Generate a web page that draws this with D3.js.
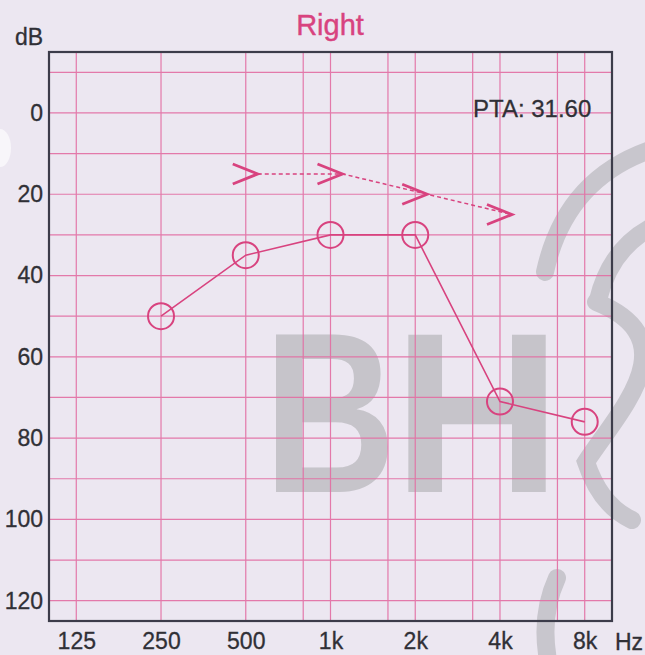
<!DOCTYPE html>
<html>
<head>
<meta charset="utf-8">
<script src="https://cdn.jsdelivr.net/npm/d3@7"></script>
<style>
  html, body { margin: 0; padding: 0; background: #ece7f1; }
  svg { display: block; }
  text { font-family: "Liberation Sans", Arial, sans-serif; }
</style>
</head>
<body>
<svg id="chart" width="645" height="655"></svg>
<script>
// ---- data ----
const freqTicks = [125, 250, 500, 1000, 2000, 4000, 8000];
const freqLabels = ["125", "250", "500", "1k", "2k", "4k", "8k"];
const midFreqs = [800, 1600, 3200, 6400];
const dbTicks = [0, 20, 40, 60, 80, 100, 120];
const dbGrid = [-10, 0, 10, 20, 30, 40, 50, 60, 70, 80, 90, 100, 110, 120];
const airFreqs = [250, 500, 1000, 2000, 4000, 8000];
const airValues = [50, 35, 30, 30, 71, 76];
const boneFreqs = [500, 1000, 2000, 4000];
const boneValues = [15, 15, 20, 25];
const title = "Right";
const ptaLabel = "PTA: 31.60";

(function () {
// ---- layout ----
const W = 645, H = 655;
const pL = 49, pR = 612, pT = 52, pB = 621;
const pink = "#d8437f";
const gridPink = "#e36ea3";
const ink = "#303036";

const svg = d3.select("#chart");
const x = d3.scaleLog().domain([100, 10000]).range([pL, pR]);
const y = d3.scaleLinear().domain([-15, 125]).range([pT, pB]);

svg.append("rect").attr("width", W).attr("height", H).attr("fill", "#ece7f1");

// punch-hole shadow at left edge
svg.append("ellipse").attr("cx", 0).attr("cy", 148).attr("rx", 11).attr("ry", 19)
  .attr("fill", "#f8f6fa");

// ---- watermark ----
const wm = svg.append("g").attr("fill", "#c6c4ca");
wm.append("text").attr("transform", "translate(330,492) scale(0.8,1)")
  .attr("text-anchor", "middle").attr("font-weight", "bold").attr("font-size", 229).text("B");
wm.append("text").attr("transform", "translate(477,492) scale(1.02,1)")
  .attr("text-anchor", "middle").attr("font-weight", "bold").attr("font-size", 229).text("H");
const arcs = svg.append("g").attr("fill", "none").attr("stroke", "#c8c6cd")
  .attr("stroke-width", 18).attr("stroke-linecap", "round");
arcs.append("path").attr("d", "M545 272 Q565 180 650 150");
arcs.append("path").attr("d", "M598 300 Q610 250 650 228");
arcs.append("path").attr("d", "M596 302 C690 340 620 410 586 462 Q600 505 632 520");
arcs.append("path").attr("d", "M557 578 Q540 615 548 660");

// ---- grid ----
const grid = svg.append("g").attr("stroke", gridPink).attr("stroke-width", 1.2).attr("opacity", 0.9);
grid.selectAll("line.h").data(dbGrid).join("line").attr("class", "h")
  .attr("x1", pL).attr("x2", pR).attr("y1", d => y(d)).attr("y2", d => y(d));
grid.selectAll("line.v").data(freqTicks.concat(midFreqs)).join("line").attr("class", "v")
  .attr("y1", pT).attr("y2", pB).attr("x1", d => x(d)).attr("x2", d => x(d));

// frame
svg.append("rect").attr("x", pL).attr("y", pT).attr("width", pR - pL).attr("height", pB - pT)
  .attr("fill", "none").attr("stroke", "#3c3c4a").attr("stroke-width", 2.2);

// ---- axes ----
const yAxis = svg.append("g").attr("transform", `translate(${pL},0)`)
  .call(d3.axisLeft(y).tickValues(dbTicks).tickSize(0).tickPadding(6));
const xAxis = svg.append("g").attr("transform", `translate(0,${pB})`)
  .call(d3.axisBottom(x).tickValues(freqTicks).tickFormat((d, i) => freqLabels[i]).tickSize(0).tickPadding(12));
[yAxis, xAxis].forEach(a => {
  a.select(".domain").remove();
  a.selectAll("text").attr("font-size", 23).attr("fill", ink)
    .attr("stroke", ink).attr("stroke-width", 0.3)
    .attr("font-family", "'Liberation Sans', Arial, sans-serif");
});

svg.append("text").attr("x", 15).attr("y", 45).attr("font-size", 23).attr("fill", ink)
  .attr("stroke", ink).attr("stroke-width", 0.3).text("dB");
svg.append("text").attr("x", 615).attr("y", 650).attr("font-size", 23).attr("fill", ink)
  .attr("stroke", ink).attr("stroke-width", 0.3).text("Hz");
svg.append("text").attr("x", 330).attr("y", 35).attr("text-anchor", "middle")
  .attr("font-size", 29).attr("fill", pink).attr("stroke", pink).attr("stroke-width", 0.4).text(title);
svg.append("text").attr("x", 473).attr("y", 117).attr("font-size", 24).attr("fill", ink)
  .attr("stroke", ink).attr("stroke-width", 0.3).text(ptaLabel);

// ---- bone conduction arrows ----
const bone = boneFreqs.map((f, i) => ({ f, v: boneValues[i] }));
svg.append("path")
  .attr("d", d3.line().x(d => x(d.f) + 12).y(d => y(d.v))(bone))
  .attr("fill", "none").attr("stroke", pink).attr("stroke-width", 1.5).attr("stroke-dasharray", "4,3");
svg.selectAll("path.chev").data(bone).join("path").attr("class", "chev")
  .attr("d", d => `M${x(d.f) - 13},${y(d.v) - 10} L${x(d.f) + 12},${y(d.v)} L${x(d.f) - 13},${y(d.v) + 10}`)
  .attr("fill", "none").attr("stroke", pink).attr("stroke-width", 2.8).attr("stroke-linejoin", "miter");

// ---- air conduction ----
const air = airFreqs.map((f, i) => ({ f, v: airValues[i] }));
svg.append("path")
  .attr("d", d3.line().x(d => x(d.f)).y(d => y(d.v))(air))
  .attr("fill", "none").attr("stroke", pink).attr("stroke-width", 1.6);
svg.selectAll("circle.ac").data(air).join("circle").attr("class", "ac")
  .attr("cx", d => x(d.f)).attr("cy", d => y(d.v)).attr("r", 13)
  .attr("fill", "none").attr("stroke", pink).attr("stroke-width", 2);
})();
</script>
</body>
</html>
